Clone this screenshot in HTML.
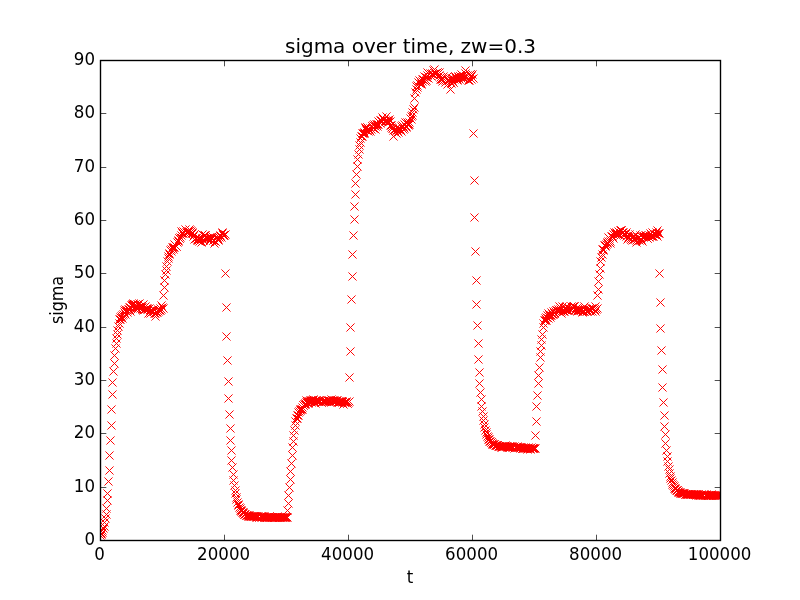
<!DOCTYPE html>
<html><head><meta charset="utf-8"><title>sigma over time</title>
<style>html,body{margin:0;padding:0;background:#fff;overflow:hidden}svg{display:block}</style></head>
<body>
<svg width="800" height="600" viewBox="0 0 800 600">
<rect x="0" y="0" width="800" height="600" fill="#ffffff"/>
<clipPath id="ax"><rect x="100" y="60" width="620" height="480"/></clipPath>
<path clip-path="url(#ax)" d="M96.45 531.45l8.1 8.1m-8.1 0l8.1 -8.1M97.45 530.45l8.1 8.1m-8.1 0l8.1 -8.1M97.45 529.45l8.1 8.1m-8.1 0l8.1 -8.1M98.45 528.45l8.1 8.1m-8.1 0l8.1 -8.1M98.45 526.45l8.1 8.1m-8.1 0l8.1 -8.1M99.45 524.45l8.1 8.1m-8.1 0l8.1 -8.1M100.45 522.45l8.1 8.1m-8.1 0l8.1 -8.1M100.45 518.45l8.1 8.1m-8.1 0l8.1 -8.1M101.45 514.45l8.1 8.1m-8.1 0l8.1 -8.1M102.45 510.45l8.1 8.1m-8.1 0l8.1 -8.1M102.45 504.45l8.1 8.1m-8.1 0l8.1 -8.1M103.45 496.45l8.1 8.1m-8.1 0l8.1 -8.1M103.45 489.45l8.1 8.1m-8.1 0l8.1 -8.1M104.45 477.45l8.1 8.1m-8.1 0l8.1 -8.1M105.45 466.45l8.1 8.1m-8.1 0l8.1 -8.1M105.45 451.45l8.1 8.1m-8.1 0l8.1 -8.1M106.45 436.45l8.1 8.1m-8.1 0l8.1 -8.1M107.45 421.45l8.1 8.1m-8.1 0l8.1 -8.1M107.45 405.45l8.1 8.1m-8.1 0l8.1 -8.1M108.45 390.45l8.1 8.1m-8.1 0l8.1 -8.1M108.45 378.45l8.1 8.1m-8.1 0l8.1 -8.1M109.45 367.45l8.1 8.1m-8.1 0l8.1 -8.1M110.45 359.45l8.1 8.1m-8.1 0l8.1 -8.1M110.45 351.45l8.1 8.1m-8.1 0l8.1 -8.1M111.45 344.45l8.1 8.1m-8.1 0l8.1 -8.1M112.45 339.45l8.1 8.1m-8.1 0l8.1 -8.1M112.45 334.45l8.1 8.1m-8.1 0l8.1 -8.1M113.45 330.45l8.1 8.1m-8.1 0l8.1 -8.1M113.45 326.45l8.1 8.1m-8.1 0l8.1 -8.1M114.45 322.45l8.1 8.1m-8.1 0l8.1 -8.1M115.45 319.45l8.1 8.1m-8.1 0l8.1 -8.1M115.45 315.45l8.1 8.1m-8.1 0l8.1 -8.1M116.45 315.45l8.1 8.1m-8.1 0l8.1 -8.1M116.45 313.45l8.1 8.1m-8.1 0l8.1 -8.1M117.45 312.45l8.1 8.1m-8.1 0l8.1 -8.1M118.45 314.45l8.1 8.1m-8.1 0l8.1 -8.1M118.45 311.45l8.1 8.1m-8.1 0l8.1 -8.1M119.45 310.45l8.1 8.1m-8.1 0l8.1 -8.1M120.45 306.45l8.1 8.1m-8.1 0l8.1 -8.1M120.45 308.45l8.1 8.1m-8.1 0l8.1 -8.1M121.45 310.45l8.1 8.1m-8.1 0l8.1 -8.1M121.45 305.45l8.1 8.1m-8.1 0l8.1 -8.1M122.45 307.45l8.1 8.1m-8.1 0l8.1 -8.1M123.45 308.45l8.1 8.1m-8.1 0l8.1 -8.1M123.45 306.45l8.1 8.1m-8.1 0l8.1 -8.1M124.45 305.45l8.1 8.1m-8.1 0l8.1 -8.1M125.45 305.45l8.1 8.1m-8.1 0l8.1 -8.1M125.45 303.45l8.1 8.1m-8.1 0l8.1 -8.1M126.45 307.45l8.1 8.1m-8.1 0l8.1 -8.1M126.45 303.45l8.1 8.1m-8.1 0l8.1 -8.1M127.45 301.45l8.1 8.1m-8.1 0l8.1 -8.1M128.45 301.45l8.1 8.1m-8.1 0l8.1 -8.1M128.45 300.45l8.1 8.1m-8.1 0l8.1 -8.1M129.45 300.45l8.1 8.1m-8.1 0l8.1 -8.1M129.45 299.45l8.1 8.1m-8.1 0l8.1 -8.1M130.45 304.45l8.1 8.1m-8.1 0l8.1 -8.1M131.45 300.45l8.1 8.1m-8.1 0l8.1 -8.1M131.45 305.45l8.1 8.1m-8.1 0l8.1 -8.1M132.45 303.45l8.1 8.1m-8.1 0l8.1 -8.1M133.45 305.45l8.1 8.1m-8.1 0l8.1 -8.1M133.45 300.45l8.1 8.1m-8.1 0l8.1 -8.1M134.45 300.45l8.1 8.1m-8.1 0l8.1 -8.1M134.45 303.45l8.1 8.1m-8.1 0l8.1 -8.1M135.45 299.45l8.1 8.1m-8.1 0l8.1 -8.1M136.45 304.45l8.1 8.1m-8.1 0l8.1 -8.1M136.45 302.45l8.1 8.1m-8.1 0l8.1 -8.1M137.45 303.45l8.1 8.1m-8.1 0l8.1 -8.1M138.45 305.45l8.1 8.1m-8.1 0l8.1 -8.1M138.45 303.45l8.1 8.1m-8.1 0l8.1 -8.1M139.45 300.45l8.1 8.1m-8.1 0l8.1 -8.1M139.45 306.45l8.1 8.1m-8.1 0l8.1 -8.1M140.45 303.45l8.1 8.1m-8.1 0l8.1 -8.1M141.45 305.45l8.1 8.1m-8.1 0l8.1 -8.1M141.45 302.45l8.1 8.1m-8.1 0l8.1 -8.1M142.45 304.45l8.1 8.1m-8.1 0l8.1 -8.1M143.45 304.45l8.1 8.1m-8.1 0l8.1 -8.1M143.45 305.45l8.1 8.1m-8.1 0l8.1 -8.1M144.45 305.45l8.1 8.1m-8.1 0l8.1 -8.1M144.45 309.45l8.1 8.1m-8.1 0l8.1 -8.1M145.45 304.45l8.1 8.1m-8.1 0l8.1 -8.1M146.45 309.45l8.1 8.1m-8.1 0l8.1 -8.1M146.45 306.45l8.1 8.1m-8.1 0l8.1 -8.1M147.45 306.45l8.1 8.1m-8.1 0l8.1 -8.1M147.45 308.45l8.1 8.1m-8.1 0l8.1 -8.1M148.45 307.45l8.1 8.1m-8.1 0l8.1 -8.1M149.45 305.45l8.1 8.1m-8.1 0l8.1 -8.1M149.45 307.45l8.1 8.1m-8.1 0l8.1 -8.1M150.45 309.45l8.1 8.1m-8.1 0l8.1 -8.1M151.45 312.45l8.1 8.1m-8.1 0l8.1 -8.1M151.45 309.45l8.1 8.1m-8.1 0l8.1 -8.1M152.45 308.45l8.1 8.1m-8.1 0l8.1 -8.1M152.45 307.45l8.1 8.1m-8.1 0l8.1 -8.1M153.45 308.45l8.1 8.1m-8.1 0l8.1 -8.1M154.45 305.45l8.1 8.1m-8.1 0l8.1 -8.1M154.45 307.45l8.1 8.1m-8.1 0l8.1 -8.1M155.45 306.45l8.1 8.1m-8.1 0l8.1 -8.1M156.45 304.45l8.1 8.1m-8.1 0l8.1 -8.1M156.45 306.45l8.1 8.1m-8.1 0l8.1 -8.1M157.45 305.45l8.1 8.1m-8.1 0l8.1 -8.1M157.45 301.45l8.1 8.1m-8.1 0l8.1 -8.1M158.45 303.45l8.1 8.1m-8.1 0l8.1 -8.1M159.45 304.45l8.1 8.1m-8.1 0l8.1 -8.1M159.45 291.45l8.1 8.1m-8.1 0l8.1 -8.1M160.45 283.45l8.1 8.1m-8.1 0l8.1 -8.1M160.45 276.45l8.1 8.1m-8.1 0l8.1 -8.1M161.45 270.45l8.1 8.1m-8.1 0l8.1 -8.1M162.45 266.45l8.1 8.1m-8.1 0l8.1 -8.1M162.45 262.45l8.1 8.1m-8.1 0l8.1 -8.1M163.45 257.45l8.1 8.1m-8.1 0l8.1 -8.1M164.45 254.45l8.1 8.1m-8.1 0l8.1 -8.1M164.45 252.45l8.1 8.1m-8.1 0l8.1 -8.1M165.45 250.45l8.1 8.1m-8.1 0l8.1 -8.1M165.45 249.45l8.1 8.1m-8.1 0l8.1 -8.1M166.45 246.45l8.1 8.1m-8.1 0l8.1 -8.1M167.45 247.45l8.1 8.1m-8.1 0l8.1 -8.1M167.45 245.45l8.1 8.1m-8.1 0l8.1 -8.1M168.45 243.45l8.1 8.1m-8.1 0l8.1 -8.1M169.45 243.45l8.1 8.1m-8.1 0l8.1 -8.1M169.45 245.45l8.1 8.1m-8.1 0l8.1 -8.1M170.45 240.45l8.1 8.1m-8.1 0l8.1 -8.1M170.45 243.45l8.1 8.1m-8.1 0l8.1 -8.1M171.45 241.45l8.1 8.1m-8.1 0l8.1 -8.1M172.45 242.45l8.1 8.1m-8.1 0l8.1 -8.1M172.45 242.45l8.1 8.1m-8.1 0l8.1 -8.1M173.45 238.45l8.1 8.1m-8.1 0l8.1 -8.1M174.45 237.45l8.1 8.1m-8.1 0l8.1 -8.1M174.45 236.45l8.1 8.1m-8.1 0l8.1 -8.1M175.45 234.45l8.1 8.1m-8.1 0l8.1 -8.1M175.45 234.45l8.1 8.1m-8.1 0l8.1 -8.1M176.45 233.45l8.1 8.1m-8.1 0l8.1 -8.1M177.45 231.45l8.1 8.1m-8.1 0l8.1 -8.1M177.45 227.45l8.1 8.1m-8.1 0l8.1 -8.1M178.45 228.45l8.1 8.1m-8.1 0l8.1 -8.1M178.45 229.45l8.1 8.1m-8.1 0l8.1 -8.1M179.45 227.45l8.1 8.1m-8.1 0l8.1 -8.1M180.45 228.45l8.1 8.1m-8.1 0l8.1 -8.1M180.45 228.45l8.1 8.1m-8.1 0l8.1 -8.1M181.45 225.45l8.1 8.1m-8.1 0l8.1 -8.1M182.45 228.45l8.1 8.1m-8.1 0l8.1 -8.1M182.45 230.45l8.1 8.1m-8.1 0l8.1 -8.1M183.45 228.45l8.1 8.1m-8.1 0l8.1 -8.1M183.45 227.45l8.1 8.1m-8.1 0l8.1 -8.1M184.45 227.45l8.1 8.1m-8.1 0l8.1 -8.1M185.45 225.45l8.1 8.1m-8.1 0l8.1 -8.1M185.45 229.45l8.1 8.1m-8.1 0l8.1 -8.1M186.45 226.45l8.1 8.1m-8.1 0l8.1 -8.1M187.45 227.45l8.1 8.1m-8.1 0l8.1 -8.1M187.45 229.45l8.1 8.1m-8.1 0l8.1 -8.1M188.45 228.45l8.1 8.1m-8.1 0l8.1 -8.1M188.45 229.45l8.1 8.1m-8.1 0l8.1 -8.1M189.45 232.45l8.1 8.1m-8.1 0l8.1 -8.1M190.45 230.45l8.1 8.1m-8.1 0l8.1 -8.1M190.45 235.45l8.1 8.1m-8.1 0l8.1 -8.1M191.45 234.45l8.1 8.1m-8.1 0l8.1 -8.1M191.45 234.45l8.1 8.1m-8.1 0l8.1 -8.1M192.45 234.45l8.1 8.1m-8.1 0l8.1 -8.1M193.45 236.45l8.1 8.1m-8.1 0l8.1 -8.1M193.45 235.45l8.1 8.1m-8.1 0l8.1 -8.1M194.45 236.45l8.1 8.1m-8.1 0l8.1 -8.1M195.45 234.45l8.1 8.1m-8.1 0l8.1 -8.1M195.45 237.45l8.1 8.1m-8.1 0l8.1 -8.1M196.45 236.45l8.1 8.1m-8.1 0l8.1 -8.1M196.45 236.45l8.1 8.1m-8.1 0l8.1 -8.1M197.45 238.45l8.1 8.1m-8.1 0l8.1 -8.1M198.45 230.45l8.1 8.1m-8.1 0l8.1 -8.1M198.45 234.45l8.1 8.1m-8.1 0l8.1 -8.1M199.45 236.45l8.1 8.1m-8.1 0l8.1 -8.1M200.45 231.45l8.1 8.1m-8.1 0l8.1 -8.1M200.45 234.45l8.1 8.1m-8.1 0l8.1 -8.1M201.45 231.45l8.1 8.1m-8.1 0l8.1 -8.1M201.45 231.45l8.1 8.1m-8.1 0l8.1 -8.1M202.45 234.45l8.1 8.1m-8.1 0l8.1 -8.1M203.45 234.45l8.1 8.1m-8.1 0l8.1 -8.1M203.45 234.45l8.1 8.1m-8.1 0l8.1 -8.1M204.45 234.45l8.1 8.1m-8.1 0l8.1 -8.1M205.45 237.45l8.1 8.1m-8.1 0l8.1 -8.1M205.45 237.45l8.1 8.1m-8.1 0l8.1 -8.1M206.45 235.45l8.1 8.1m-8.1 0l8.1 -8.1M206.45 233.45l8.1 8.1m-8.1 0l8.1 -8.1M207.45 234.45l8.1 8.1m-8.1 0l8.1 -8.1M208.45 232.45l8.1 8.1m-8.1 0l8.1 -8.1M208.45 234.45l8.1 8.1m-8.1 0l8.1 -8.1M209.45 236.45l8.1 8.1m-8.1 0l8.1 -8.1M209.45 236.45l8.1 8.1m-8.1 0l8.1 -8.1M210.45 239.45l8.1 8.1m-8.1 0l8.1 -8.1M211.45 237.45l8.1 8.1m-8.1 0l8.1 -8.1M211.45 237.45l8.1 8.1m-8.1 0l8.1 -8.1M212.45 234.45l8.1 8.1m-8.1 0l8.1 -8.1M213.45 233.45l8.1 8.1m-8.1 0l8.1 -8.1M213.45 235.45l8.1 8.1m-8.1 0l8.1 -8.1M214.45 235.45l8.1 8.1m-8.1 0l8.1 -8.1M214.45 236.45l8.1 8.1m-8.1 0l8.1 -8.1M215.45 233.45l8.1 8.1m-8.1 0l8.1 -8.1M216.45 232.45l8.1 8.1m-8.1 0l8.1 -8.1M216.45 231.45l8.1 8.1m-8.1 0l8.1 -8.1M217.45 233.45l8.1 8.1m-8.1 0l8.1 -8.1M218.45 228.45l8.1 8.1m-8.1 0l8.1 -8.1M218.45 229.45l8.1 8.1m-8.1 0l8.1 -8.1M219.45 231.45l8.1 8.1m-8.1 0l8.1 -8.1M219.45 231.45l8.1 8.1m-8.1 0l8.1 -8.1M220.45 231.45l8.1 8.1m-8.1 0l8.1 -8.1M221.45 230.45l8.1 8.1m-8.1 0l8.1 -8.1M221.45 269.45l8.1 8.1m-8.1 0l8.1 -8.1M222.45 303.45l8.1 8.1m-8.1 0l8.1 -8.1M222.45 332.45l8.1 8.1m-8.1 0l8.1 -8.1M223.45 356.45l8.1 8.1m-8.1 0l8.1 -8.1M224.45 377.45l8.1 8.1m-8.1 0l8.1 -8.1M224.45 394.45l8.1 8.1m-8.1 0l8.1 -8.1M225.45 410.45l8.1 8.1m-8.1 0l8.1 -8.1M226.45 424.45l8.1 8.1m-8.1 0l8.1 -8.1M226.45 436.45l8.1 8.1m-8.1 0l8.1 -8.1M227.45 446.45l8.1 8.1m-8.1 0l8.1 -8.1M227.45 456.45l8.1 8.1m-8.1 0l8.1 -8.1M228.45 463.45l8.1 8.1m-8.1 0l8.1 -8.1M229.45 470.45l8.1 8.1m-8.1 0l8.1 -8.1M229.45 476.45l8.1 8.1m-8.1 0l8.1 -8.1M230.45 481.45l8.1 8.1m-8.1 0l8.1 -8.1M231.45 486.45l8.1 8.1m-8.1 0l8.1 -8.1M231.45 489.45l8.1 8.1m-8.1 0l8.1 -8.1M232.45 493.45l8.1 8.1m-8.1 0l8.1 -8.1M232.45 495.45l8.1 8.1m-8.1 0l8.1 -8.1M233.45 498.45l8.1 8.1m-8.1 0l8.1 -8.1M234.45 500.45l8.1 8.1m-8.1 0l8.1 -8.1M234.45 501.45l8.1 8.1m-8.1 0l8.1 -8.1M235.45 503.45l8.1 8.1m-8.1 0l8.1 -8.1M236.45 504.45l8.1 8.1m-8.1 0l8.1 -8.1M236.45 506.45l8.1 8.1m-8.1 0l8.1 -8.1M237.45 506.45l8.1 8.1m-8.1 0l8.1 -8.1M237.45 507.45l8.1 8.1m-8.1 0l8.1 -8.1M238.45 508.45l8.1 8.1m-8.1 0l8.1 -8.1M239.45 508.45l8.1 8.1m-8.1 0l8.1 -8.1M239.45 509.45l8.1 8.1m-8.1 0l8.1 -8.1M240.45 510.45l8.1 8.1m-8.1 0l8.1 -8.1M240.45 510.45l8.1 8.1m-8.1 0l8.1 -8.1M241.45 510.45l8.1 8.1m-8.1 0l8.1 -8.1M242.45 511.45l8.1 8.1m-8.1 0l8.1 -8.1M242.45 511.45l8.1 8.1m-8.1 0l8.1 -8.1M243.45 511.45l8.1 8.1m-8.1 0l8.1 -8.1M244.45 511.45l8.1 8.1m-8.1 0l8.1 -8.1M244.45 512.45l8.1 8.1m-8.1 0l8.1 -8.1M245.45 512.45l8.1 8.1m-8.1 0l8.1 -8.1M245.45 511.45l8.1 8.1m-8.1 0l8.1 -8.1M246.45 512.45l8.1 8.1m-8.1 0l8.1 -8.1M247.45 512.45l8.1 8.1m-8.1 0l8.1 -8.1M247.45 512.45l8.1 8.1m-8.1 0l8.1 -8.1M248.45 512.45l8.1 8.1m-8.1 0l8.1 -8.1M249.45 512.45l8.1 8.1m-8.1 0l8.1 -8.1M249.45 512.45l8.1 8.1m-8.1 0l8.1 -8.1M250.45 512.45l8.1 8.1m-8.1 0l8.1 -8.1M250.45 512.45l8.1 8.1m-8.1 0l8.1 -8.1M251.45 512.45l8.1 8.1m-8.1 0l8.1 -8.1M252.45 513.45l8.1 8.1m-8.1 0l8.1 -8.1M252.45 512.45l8.1 8.1m-8.1 0l8.1 -8.1M253.45 512.45l8.1 8.1m-8.1 0l8.1 -8.1M253.45 513.45l8.1 8.1m-8.1 0l8.1 -8.1M254.45 512.45l8.1 8.1m-8.1 0l8.1 -8.1M255.45 513.45l8.1 8.1m-8.1 0l8.1 -8.1M255.45 513.45l8.1 8.1m-8.1 0l8.1 -8.1M256.45 512.45l8.1 8.1m-8.1 0l8.1 -8.1M257.45 512.45l8.1 8.1m-8.1 0l8.1 -8.1M257.45 513.45l8.1 8.1m-8.1 0l8.1 -8.1M258.45 512.45l8.1 8.1m-8.1 0l8.1 -8.1M258.45 513.45l8.1 8.1m-8.1 0l8.1 -8.1M259.45 512.45l8.1 8.1m-8.1 0l8.1 -8.1M260.45 513.45l8.1 8.1m-8.1 0l8.1 -8.1M260.45 512.45l8.1 8.1m-8.1 0l8.1 -8.1M261.45 513.45l8.1 8.1m-8.1 0l8.1 -8.1M262.45 513.45l8.1 8.1m-8.1 0l8.1 -8.1M262.45 513.45l8.1 8.1m-8.1 0l8.1 -8.1M263.45 513.45l8.1 8.1m-8.1 0l8.1 -8.1M263.45 513.45l8.1 8.1m-8.1 0l8.1 -8.1M264.45 513.45l8.1 8.1m-8.1 0l8.1 -8.1M265.45 512.45l8.1 8.1m-8.1 0l8.1 -8.1M265.45 513.45l8.1 8.1m-8.1 0l8.1 -8.1M266.45 513.45l8.1 8.1m-8.1 0l8.1 -8.1M267.45 513.45l8.1 8.1m-8.1 0l8.1 -8.1M267.45 513.45l8.1 8.1m-8.1 0l8.1 -8.1M268.45 513.45l8.1 8.1m-8.1 0l8.1 -8.1M268.45 513.45l8.1 8.1m-8.1 0l8.1 -8.1M269.45 513.45l8.1 8.1m-8.1 0l8.1 -8.1M270.45 513.45l8.1 8.1m-8.1 0l8.1 -8.1M270.45 513.45l8.1 8.1m-8.1 0l8.1 -8.1M271.45 513.45l8.1 8.1m-8.1 0l8.1 -8.1M271.45 513.45l8.1 8.1m-8.1 0l8.1 -8.1M272.45 513.45l8.1 8.1m-8.1 0l8.1 -8.1M273.45 512.45l8.1 8.1m-8.1 0l8.1 -8.1M273.45 513.45l8.1 8.1m-8.1 0l8.1 -8.1M274.45 513.45l8.1 8.1m-8.1 0l8.1 -8.1M275.45 513.45l8.1 8.1m-8.1 0l8.1 -8.1M275.45 513.45l8.1 8.1m-8.1 0l8.1 -8.1M276.45 513.45l8.1 8.1m-8.1 0l8.1 -8.1M276.45 513.45l8.1 8.1m-8.1 0l8.1 -8.1M277.45 513.45l8.1 8.1m-8.1 0l8.1 -8.1M278.45 513.45l8.1 8.1m-8.1 0l8.1 -8.1M278.45 513.45l8.1 8.1m-8.1 0l8.1 -8.1M279.45 513.45l8.1 8.1m-8.1 0l8.1 -8.1M280.45 513.45l8.1 8.1m-8.1 0l8.1 -8.1M280.45 513.45l8.1 8.1m-8.1 0l8.1 -8.1M281.45 513.45l8.1 8.1m-8.1 0l8.1 -8.1M281.45 513.45l8.1 8.1m-8.1 0l8.1 -8.1M282.45 513.45l8.1 8.1m-8.1 0l8.1 -8.1M283.45 513.45l8.1 8.1m-8.1 0l8.1 -8.1M283.45 506.45l8.1 8.1m-8.1 0l8.1 -8.1M284.45 499.45l8.1 8.1m-8.1 0l8.1 -8.1M284.45 491.45l8.1 8.1m-8.1 0l8.1 -8.1M285.45 483.45l8.1 8.1m-8.1 0l8.1 -8.1M286.45 475.45l8.1 8.1m-8.1 0l8.1 -8.1M286.45 467.45l8.1 8.1m-8.1 0l8.1 -8.1M287.45 459.45l8.1 8.1m-8.1 0l8.1 -8.1M288.45 451.45l8.1 8.1m-8.1 0l8.1 -8.1M288.45 443.45l8.1 8.1m-8.1 0l8.1 -8.1M289.45 437.45l8.1 8.1m-8.1 0l8.1 -8.1M289.45 431.45l8.1 8.1m-8.1 0l8.1 -8.1M290.45 426.45l8.1 8.1m-8.1 0l8.1 -8.1M291.45 421.45l8.1 8.1m-8.1 0l8.1 -8.1M291.45 417.45l8.1 8.1m-8.1 0l8.1 -8.1M292.45 414.45l8.1 8.1m-8.1 0l8.1 -8.1M293.45 414.45l8.1 8.1m-8.1 0l8.1 -8.1M293.45 411.45l8.1 8.1m-8.1 0l8.1 -8.1M294.45 411.45l8.1 8.1m-8.1 0l8.1 -8.1M294.45 408.45l8.1 8.1m-8.1 0l8.1 -8.1M295.45 407.45l8.1 8.1m-8.1 0l8.1 -8.1M296.45 406.45l8.1 8.1m-8.1 0l8.1 -8.1M296.45 405.45l8.1 8.1m-8.1 0l8.1 -8.1M297.45 405.45l8.1 8.1m-8.1 0l8.1 -8.1M298.45 405.45l8.1 8.1m-8.1 0l8.1 -8.1M298.45 403.45l8.1 8.1m-8.1 0l8.1 -8.1M299.45 401.45l8.1 8.1m-8.1 0l8.1 -8.1M299.45 401.45l8.1 8.1m-8.1 0l8.1 -8.1M300.45 400.45l8.1 8.1m-8.1 0l8.1 -8.1M301.45 399.45l8.1 8.1m-8.1 0l8.1 -8.1M301.45 400.45l8.1 8.1m-8.1 0l8.1 -8.1M302.45 398.45l8.1 8.1m-8.1 0l8.1 -8.1M302.45 396.45l8.1 8.1m-8.1 0l8.1 -8.1M303.45 398.45l8.1 8.1m-8.1 0l8.1 -8.1M304.45 399.45l8.1 8.1m-8.1 0l8.1 -8.1M304.45 397.45l8.1 8.1m-8.1 0l8.1 -8.1M305.45 397.45l8.1 8.1m-8.1 0l8.1 -8.1M306.45 396.45l8.1 8.1m-8.1 0l8.1 -8.1M306.45 397.45l8.1 8.1m-8.1 0l8.1 -8.1M307.45 396.45l8.1 8.1m-8.1 0l8.1 -8.1M307.45 398.45l8.1 8.1m-8.1 0l8.1 -8.1M308.45 396.45l8.1 8.1m-8.1 0l8.1 -8.1M309.45 395.45l8.1 8.1m-8.1 0l8.1 -8.1M309.45 396.45l8.1 8.1m-8.1 0l8.1 -8.1M310.45 398.45l8.1 8.1m-8.1 0l8.1 -8.1M311.45 396.45l8.1 8.1m-8.1 0l8.1 -8.1M311.45 399.45l8.1 8.1m-8.1 0l8.1 -8.1M312.45 396.45l8.1 8.1m-8.1 0l8.1 -8.1M312.45 397.45l8.1 8.1m-8.1 0l8.1 -8.1M313.45 397.45l8.1 8.1m-8.1 0l8.1 -8.1M314.45 396.45l8.1 8.1m-8.1 0l8.1 -8.1M314.45 397.45l8.1 8.1m-8.1 0l8.1 -8.1M315.45 396.45l8.1 8.1m-8.1 0l8.1 -8.1M315.45 397.45l8.1 8.1m-8.1 0l8.1 -8.1M316.45 397.45l8.1 8.1m-8.1 0l8.1 -8.1M317.45 398.45l8.1 8.1m-8.1 0l8.1 -8.1M317.45 398.45l8.1 8.1m-8.1 0l8.1 -8.1M318.45 397.45l8.1 8.1m-8.1 0l8.1 -8.1M319.45 397.45l8.1 8.1m-8.1 0l8.1 -8.1M319.45 397.45l8.1 8.1m-8.1 0l8.1 -8.1M320.45 396.45l8.1 8.1m-8.1 0l8.1 -8.1M320.45 397.45l8.1 8.1m-8.1 0l8.1 -8.1M321.45 397.45l8.1 8.1m-8.1 0l8.1 -8.1M322.45 397.45l8.1 8.1m-8.1 0l8.1 -8.1M322.45 397.45l8.1 8.1m-8.1 0l8.1 -8.1M323.45 396.45l8.1 8.1m-8.1 0l8.1 -8.1M324.45 397.45l8.1 8.1m-8.1 0l8.1 -8.1M324.45 396.45l8.1 8.1m-8.1 0l8.1 -8.1M325.45 397.45l8.1 8.1m-8.1 0l8.1 -8.1M325.45 396.45l8.1 8.1m-8.1 0l8.1 -8.1M326.45 397.45l8.1 8.1m-8.1 0l8.1 -8.1M327.45 395.45l8.1 8.1m-8.1 0l8.1 -8.1M327.45 398.45l8.1 8.1m-8.1 0l8.1 -8.1M328.45 396.45l8.1 8.1m-8.1 0l8.1 -8.1M329.45 397.45l8.1 8.1m-8.1 0l8.1 -8.1M329.45 396.45l8.1 8.1m-8.1 0l8.1 -8.1M330.45 396.45l8.1 8.1m-8.1 0l8.1 -8.1M330.45 397.45l8.1 8.1m-8.1 0l8.1 -8.1M331.45 397.45l8.1 8.1m-8.1 0l8.1 -8.1M332.45 397.45l8.1 8.1m-8.1 0l8.1 -8.1M332.45 396.45l8.1 8.1m-8.1 0l8.1 -8.1M333.45 398.45l8.1 8.1m-8.1 0l8.1 -8.1M333.45 396.45l8.1 8.1m-8.1 0l8.1 -8.1M334.45 398.45l8.1 8.1m-8.1 0l8.1 -8.1M335.45 398.45l8.1 8.1m-8.1 0l8.1 -8.1M335.45 397.45l8.1 8.1m-8.1 0l8.1 -8.1M336.45 397.45l8.1 8.1m-8.1 0l8.1 -8.1M337.45 397.45l8.1 8.1m-8.1 0l8.1 -8.1M337.45 397.45l8.1 8.1m-8.1 0l8.1 -8.1M338.45 397.45l8.1 8.1m-8.1 0l8.1 -8.1M338.45 398.45l8.1 8.1m-8.1 0l8.1 -8.1M339.45 400.45l8.1 8.1m-8.1 0l8.1 -8.1M340.45 398.45l8.1 8.1m-8.1 0l8.1 -8.1M340.45 398.45l8.1 8.1m-8.1 0l8.1 -8.1M341.45 398.45l8.1 8.1m-8.1 0l8.1 -8.1M342.45 397.45l8.1 8.1m-8.1 0l8.1 -8.1M342.45 398.45l8.1 8.1m-8.1 0l8.1 -8.1M343.45 399.45l8.1 8.1m-8.1 0l8.1 -8.1M343.45 399.45l8.1 8.1m-8.1 0l8.1 -8.1M344.45 398.45l8.1 8.1m-8.1 0l8.1 -8.1M345.45 397.45l8.1 8.1m-8.1 0l8.1 -8.1M345.45 373.45l8.1 8.1m-8.1 0l8.1 -8.1M346.45 347.45l8.1 8.1m-8.1 0l8.1 -8.1M346.45 323.45l8.1 8.1m-8.1 0l8.1 -8.1M347.45 295.45l8.1 8.1m-8.1 0l8.1 -8.1M348.45 272.45l8.1 8.1m-8.1 0l8.1 -8.1M348.45 250.45l8.1 8.1m-8.1 0l8.1 -8.1M349.45 231.45l8.1 8.1m-8.1 0l8.1 -8.1M350.45 215.45l8.1 8.1m-8.1 0l8.1 -8.1M350.45 202.45l8.1 8.1m-8.1 0l8.1 -8.1M351.45 190.45l8.1 8.1m-8.1 0l8.1 -8.1M351.45 179.45l8.1 8.1m-8.1 0l8.1 -8.1M352.45 170.45l8.1 8.1m-8.1 0l8.1 -8.1M353.45 162.45l8.1 8.1m-8.1 0l8.1 -8.1M353.45 155.45l8.1 8.1m-8.1 0l8.1 -8.1M354.45 150.45l8.1 8.1m-8.1 0l8.1 -8.1M355.45 145.45l8.1 8.1m-8.1 0l8.1 -8.1M355.45 141.45l8.1 8.1m-8.1 0l8.1 -8.1M356.45 138.45l8.1 8.1m-8.1 0l8.1 -8.1M356.45 134.45l8.1 8.1m-8.1 0l8.1 -8.1M357.45 132.45l8.1 8.1m-8.1 0l8.1 -8.1M358.45 132.45l8.1 8.1m-8.1 0l8.1 -8.1M358.45 129.45l8.1 8.1m-8.1 0l8.1 -8.1M359.45 129.45l8.1 8.1m-8.1 0l8.1 -8.1M360.45 129.45l8.1 8.1m-8.1 0l8.1 -8.1M360.45 128.45l8.1 8.1m-8.1 0l8.1 -8.1M361.45 124.45l8.1 8.1m-8.1 0l8.1 -8.1M361.45 123.45l8.1 8.1m-8.1 0l8.1 -8.1M362.45 126.45l8.1 8.1m-8.1 0l8.1 -8.1M363.45 123.45l8.1 8.1m-8.1 0l8.1 -8.1M363.45 123.45l8.1 8.1m-8.1 0l8.1 -8.1M364.45 127.45l8.1 8.1m-8.1 0l8.1 -8.1M364.45 125.45l8.1 8.1m-8.1 0l8.1 -8.1M365.45 125.45l8.1 8.1m-8.1 0l8.1 -8.1M366.45 124.45l8.1 8.1m-8.1 0l8.1 -8.1M366.45 127.45l8.1 8.1m-8.1 0l8.1 -8.1M367.45 125.45l8.1 8.1m-8.1 0l8.1 -8.1M368.45 122.45l8.1 8.1m-8.1 0l8.1 -8.1M368.45 122.45l8.1 8.1m-8.1 0l8.1 -8.1M369.45 121.45l8.1 8.1m-8.1 0l8.1 -8.1M369.45 124.45l8.1 8.1m-8.1 0l8.1 -8.1M370.45 120.45l8.1 8.1m-8.1 0l8.1 -8.1M371.45 122.45l8.1 8.1m-8.1 0l8.1 -8.1M371.45 125.45l8.1 8.1m-8.1 0l8.1 -8.1M372.45 120.45l8.1 8.1m-8.1 0l8.1 -8.1M373.45 122.45l8.1 8.1m-8.1 0l8.1 -8.1M373.45 120.45l8.1 8.1m-8.1 0l8.1 -8.1M374.45 120.45l8.1 8.1m-8.1 0l8.1 -8.1M374.45 117.45l8.1 8.1m-8.1 0l8.1 -8.1M375.45 118.45l8.1 8.1m-8.1 0l8.1 -8.1M376.45 119.45l8.1 8.1m-8.1 0l8.1 -8.1M376.45 116.45l8.1 8.1m-8.1 0l8.1 -8.1M377.45 116.45l8.1 8.1m-8.1 0l8.1 -8.1M377.45 117.45l8.1 8.1m-8.1 0l8.1 -8.1M378.45 113.45l8.1 8.1m-8.1 0l8.1 -8.1M379.45 115.45l8.1 8.1m-8.1 0l8.1 -8.1M379.45 115.45l8.1 8.1m-8.1 0l8.1 -8.1M380.45 115.45l8.1 8.1m-8.1 0l8.1 -8.1M381.45 117.45l8.1 8.1m-8.1 0l8.1 -8.1M381.45 116.45l8.1 8.1m-8.1 0l8.1 -8.1M382.45 112.45l8.1 8.1m-8.1 0l8.1 -8.1M382.45 117.45l8.1 8.1m-8.1 0l8.1 -8.1M383.45 116.45l8.1 8.1m-8.1 0l8.1 -8.1M384.45 118.45l8.1 8.1m-8.1 0l8.1 -8.1M384.45 117.45l8.1 8.1m-8.1 0l8.1 -8.1M385.45 115.45l8.1 8.1m-8.1 0l8.1 -8.1M386.45 117.45l8.1 8.1m-8.1 0l8.1 -8.1M386.45 121.45l8.1 8.1m-8.1 0l8.1 -8.1M387.45 121.45l8.1 8.1m-8.1 0l8.1 -8.1M387.45 123.45l8.1 8.1m-8.1 0l8.1 -8.1M388.45 124.45l8.1 8.1m-8.1 0l8.1 -8.1M389.45 126.45l8.1 8.1m-8.1 0l8.1 -8.1M389.45 132.45l8.1 8.1m-8.1 0l8.1 -8.1M390.45 125.45l8.1 8.1m-8.1 0l8.1 -8.1M391.45 125.45l8.1 8.1m-8.1 0l8.1 -8.1M391.45 125.45l8.1 8.1m-8.1 0l8.1 -8.1M392.45 126.45l8.1 8.1m-8.1 0l8.1 -8.1M392.45 129.45l8.1 8.1m-8.1 0l8.1 -8.1M393.45 126.45l8.1 8.1m-8.1 0l8.1 -8.1M394.45 128.45l8.1 8.1m-8.1 0l8.1 -8.1M394.45 125.45l8.1 8.1m-8.1 0l8.1 -8.1M395.45 125.45l8.1 8.1m-8.1 0l8.1 -8.1M395.45 124.45l8.1 8.1m-8.1 0l8.1 -8.1M396.45 125.45l8.1 8.1m-8.1 0l8.1 -8.1M397.45 127.45l8.1 8.1m-8.1 0l8.1 -8.1M397.45 122.45l8.1 8.1m-8.1 0l8.1 -8.1M398.45 121.45l8.1 8.1m-8.1 0l8.1 -8.1M399.45 125.45l8.1 8.1m-8.1 0l8.1 -8.1M399.45 122.45l8.1 8.1m-8.1 0l8.1 -8.1M400.45 120.45l8.1 8.1m-8.1 0l8.1 -8.1M400.45 124.45l8.1 8.1m-8.1 0l8.1 -8.1M401.45 118.45l8.1 8.1m-8.1 0l8.1 -8.1M402.45 122.45l8.1 8.1m-8.1 0l8.1 -8.1M402.45 123.45l8.1 8.1m-8.1 0l8.1 -8.1M403.45 118.45l8.1 8.1m-8.1 0l8.1 -8.1M404.45 120.45l8.1 8.1m-8.1 0l8.1 -8.1M404.45 121.45l8.1 8.1m-8.1 0l8.1 -8.1M405.45 118.45l8.1 8.1m-8.1 0l8.1 -8.1M405.45 120.45l8.1 8.1m-8.1 0l8.1 -8.1M406.45 114.45l8.1 8.1m-8.1 0l8.1 -8.1M407.45 115.45l8.1 8.1m-8.1 0l8.1 -8.1M407.45 112.45l8.1 8.1m-8.1 0l8.1 -8.1M408.45 111.45l8.1 8.1m-8.1 0l8.1 -8.1M408.45 108.45l8.1 8.1m-8.1 0l8.1 -8.1M409.45 105.45l8.1 8.1m-8.1 0l8.1 -8.1M410.45 103.45l8.1 8.1m-8.1 0l8.1 -8.1M410.45 94.45l8.1 8.1m-8.1 0l8.1 -8.1M411.45 88.45l8.1 8.1m-8.1 0l8.1 -8.1M412.45 85.45l8.1 8.1m-8.1 0l8.1 -8.1M412.45 82.45l8.1 8.1m-8.1 0l8.1 -8.1M413.45 83.45l8.1 8.1m-8.1 0l8.1 -8.1M413.45 81.45l8.1 8.1m-8.1 0l8.1 -8.1M414.45 78.45l8.1 8.1m-8.1 0l8.1 -8.1M415.45 79.45l8.1 8.1m-8.1 0l8.1 -8.1M415.45 76.45l8.1 8.1m-8.1 0l8.1 -8.1M416.45 77.45l8.1 8.1m-8.1 0l8.1 -8.1M417.45 79.45l8.1 8.1m-8.1 0l8.1 -8.1M417.45 80.45l8.1 8.1m-8.1 0l8.1 -8.1M418.45 77.45l8.1 8.1m-8.1 0l8.1 -8.1M418.45 75.45l8.1 8.1m-8.1 0l8.1 -8.1M419.45 75.45l8.1 8.1m-8.1 0l8.1 -8.1M420.45 76.45l8.1 8.1m-8.1 0l8.1 -8.1M420.45 72.45l8.1 8.1m-8.1 0l8.1 -8.1M421.45 77.45l8.1 8.1m-8.1 0l8.1 -8.1M422.45 76.45l8.1 8.1m-8.1 0l8.1 -8.1M422.45 73.45l8.1 8.1m-8.1 0l8.1 -8.1M423.45 68.45l8.1 8.1m-8.1 0l8.1 -8.1M423.45 71.45l8.1 8.1m-8.1 0l8.1 -8.1M424.45 74.45l8.1 8.1m-8.1 0l8.1 -8.1M425.45 70.45l8.1 8.1m-8.1 0l8.1 -8.1M425.45 70.45l8.1 8.1m-8.1 0l8.1 -8.1M426.45 69.45l8.1 8.1m-8.1 0l8.1 -8.1M426.45 71.45l8.1 8.1m-8.1 0l8.1 -8.1M427.45 72.45l8.1 8.1m-8.1 0l8.1 -8.1M428.45 70.45l8.1 8.1m-8.1 0l8.1 -8.1M428.45 69.45l8.1 8.1m-8.1 0l8.1 -8.1M429.45 66.45l8.1 8.1m-8.1 0l8.1 -8.1M430.45 65.45l8.1 8.1m-8.1 0l8.1 -8.1M430.45 71.45l8.1 8.1m-8.1 0l8.1 -8.1M431.45 70.45l8.1 8.1m-8.1 0l8.1 -8.1M431.45 69.45l8.1 8.1m-8.1 0l8.1 -8.1M432.45 69.45l8.1 8.1m-8.1 0l8.1 -8.1M433.45 68.45l8.1 8.1m-8.1 0l8.1 -8.1M433.45 68.45l8.1 8.1m-8.1 0l8.1 -8.1M434.45 69.45l8.1 8.1m-8.1 0l8.1 -8.1M435.45 68.45l8.1 8.1m-8.1 0l8.1 -8.1M435.45 71.45l8.1 8.1m-8.1 0l8.1 -8.1M436.45 73.45l8.1 8.1m-8.1 0l8.1 -8.1M436.45 75.45l8.1 8.1m-8.1 0l8.1 -8.1M437.45 75.45l8.1 8.1m-8.1 0l8.1 -8.1M438.45 75.45l8.1 8.1m-8.1 0l8.1 -8.1M438.45 77.45l8.1 8.1m-8.1 0l8.1 -8.1M439.45 72.45l8.1 8.1m-8.1 0l8.1 -8.1M439.45 74.45l8.1 8.1m-8.1 0l8.1 -8.1M440.45 75.45l8.1 8.1m-8.1 0l8.1 -8.1M441.45 76.45l8.1 8.1m-8.1 0l8.1 -8.1M441.45 78.45l8.1 8.1m-8.1 0l8.1 -8.1M442.45 77.45l8.1 8.1m-8.1 0l8.1 -8.1M443.45 72.45l8.1 8.1m-8.1 0l8.1 -8.1M443.45 80.45l8.1 8.1m-8.1 0l8.1 -8.1M444.45 76.45l8.1 8.1m-8.1 0l8.1 -8.1M444.45 75.45l8.1 8.1m-8.1 0l8.1 -8.1M445.45 76.45l8.1 8.1m-8.1 0l8.1 -8.1M446.45 85.45l8.1 8.1m-8.1 0l8.1 -8.1M446.45 75.45l8.1 8.1m-8.1 0l8.1 -8.1M447.45 79.45l8.1 8.1m-8.1 0l8.1 -8.1M448.45 76.45l8.1 8.1m-8.1 0l8.1 -8.1M448.45 74.45l8.1 8.1m-8.1 0l8.1 -8.1M449.45 78.45l8.1 8.1m-8.1 0l8.1 -8.1M449.45 78.45l8.1 8.1m-8.1 0l8.1 -8.1M450.45 75.45l8.1 8.1m-8.1 0l8.1 -8.1M451.45 73.45l8.1 8.1m-8.1 0l8.1 -8.1M451.45 72.45l8.1 8.1m-8.1 0l8.1 -8.1M452.45 73.45l8.1 8.1m-8.1 0l8.1 -8.1M453.45 75.45l8.1 8.1m-8.1 0l8.1 -8.1M453.45 76.45l8.1 8.1m-8.1 0l8.1 -8.1M454.45 73.45l8.1 8.1m-8.1 0l8.1 -8.1M454.45 72.45l8.1 8.1m-8.1 0l8.1 -8.1M455.45 75.45l8.1 8.1m-8.1 0l8.1 -8.1M456.45 72.45l8.1 8.1m-8.1 0l8.1 -8.1M456.45 72.45l8.1 8.1m-8.1 0l8.1 -8.1M457.45 70.45l8.1 8.1m-8.1 0l8.1 -8.1M457.45 74.45l8.1 8.1m-8.1 0l8.1 -8.1M458.45 71.45l8.1 8.1m-8.1 0l8.1 -8.1M459.45 74.45l8.1 8.1m-8.1 0l8.1 -8.1M459.45 73.45l8.1 8.1m-8.1 0l8.1 -8.1M460.45 72.45l8.1 8.1m-8.1 0l8.1 -8.1M461.45 69.45l8.1 8.1m-8.1 0l8.1 -8.1M461.45 66.45l8.1 8.1m-8.1 0l8.1 -8.1M462.45 72.45l8.1 8.1m-8.1 0l8.1 -8.1M462.45 72.45l8.1 8.1m-8.1 0l8.1 -8.1M463.45 71.45l8.1 8.1m-8.1 0l8.1 -8.1M464.45 76.45l8.1 8.1m-8.1 0l8.1 -8.1M464.45 72.45l8.1 8.1m-8.1 0l8.1 -8.1M465.45 76.45l8.1 8.1m-8.1 0l8.1 -8.1M466.45 70.45l8.1 8.1m-8.1 0l8.1 -8.1M466.45 70.45l8.1 8.1m-8.1 0l8.1 -8.1M467.45 72.45l8.1 8.1m-8.1 0l8.1 -8.1M467.45 75.45l8.1 8.1m-8.1 0l8.1 -8.1M468.45 70.45l8.1 8.1m-8.1 0l8.1 -8.1M469.45 74.45l8.1 8.1m-8.1 0l8.1 -8.1M469.45 129.45l8.1 8.1m-8.1 0l8.1 -8.1M470.45 176.45l8.1 8.1m-8.1 0l8.1 -8.1M470.45 213.45l8.1 8.1m-8.1 0l8.1 -8.1M471.45 247.45l8.1 8.1m-8.1 0l8.1 -8.1M472.45 276.45l8.1 8.1m-8.1 0l8.1 -8.1M472.45 300.45l8.1 8.1m-8.1 0l8.1 -8.1M473.45 321.45l8.1 8.1m-8.1 0l8.1 -8.1M474.45 339.45l8.1 8.1m-8.1 0l8.1 -8.1M474.45 355.45l8.1 8.1m-8.1 0l8.1 -8.1M475.45 368.45l8.1 8.1m-8.1 0l8.1 -8.1M475.45 379.45l8.1 8.1m-8.1 0l8.1 -8.1M476.45 388.45l8.1 8.1m-8.1 0l8.1 -8.1M477.45 395.45l8.1 8.1m-8.1 0l8.1 -8.1M477.45 402.45l8.1 8.1m-8.1 0l8.1 -8.1M478.45 407.45l8.1 8.1m-8.1 0l8.1 -8.1M479.45 412.45l8.1 8.1m-8.1 0l8.1 -8.1M479.45 416.45l8.1 8.1m-8.1 0l8.1 -8.1M480.45 420.45l8.1 8.1m-8.1 0l8.1 -8.1M480.45 423.45l8.1 8.1m-8.1 0l8.1 -8.1M481.45 426.45l8.1 8.1m-8.1 0l8.1 -8.1M482.45 428.45l8.1 8.1m-8.1 0l8.1 -8.1M482.45 430.45l8.1 8.1m-8.1 0l8.1 -8.1M483.45 432.45l8.1 8.1m-8.1 0l8.1 -8.1M484.45 433.45l8.1 8.1m-8.1 0l8.1 -8.1M484.45 435.45l8.1 8.1m-8.1 0l8.1 -8.1M485.45 435.45l8.1 8.1m-8.1 0l8.1 -8.1M485.45 437.45l8.1 8.1m-8.1 0l8.1 -8.1M486.45 437.45l8.1 8.1m-8.1 0l8.1 -8.1M487.45 438.45l8.1 8.1m-8.1 0l8.1 -8.1M487.45 438.45l8.1 8.1m-8.1 0l8.1 -8.1M488.45 439.45l8.1 8.1m-8.1 0l8.1 -8.1M488.45 440.45l8.1 8.1m-8.1 0l8.1 -8.1M489.45 440.45l8.1 8.1m-8.1 0l8.1 -8.1M490.45 440.45l8.1 8.1m-8.1 0l8.1 -8.1M490.45 440.45l8.1 8.1m-8.1 0l8.1 -8.1M491.45 441.45l8.1 8.1m-8.1 0l8.1 -8.1M492.45 441.45l8.1 8.1m-8.1 0l8.1 -8.1M492.45 441.45l8.1 8.1m-8.1 0l8.1 -8.1M493.45 441.45l8.1 8.1m-8.1 0l8.1 -8.1M493.45 441.45l8.1 8.1m-8.1 0l8.1 -8.1M494.45 442.45l8.1 8.1m-8.1 0l8.1 -8.1M495.45 442.45l8.1 8.1m-8.1 0l8.1 -8.1M495.45 442.45l8.1 8.1m-8.1 0l8.1 -8.1M496.45 442.45l8.1 8.1m-8.1 0l8.1 -8.1M497.45 443.45l8.1 8.1m-8.1 0l8.1 -8.1M497.45 442.45l8.1 8.1m-8.1 0l8.1 -8.1M498.45 442.45l8.1 8.1m-8.1 0l8.1 -8.1M498.45 443.45l8.1 8.1m-8.1 0l8.1 -8.1M499.45 442.45l8.1 8.1m-8.1 0l8.1 -8.1M500.45 442.45l8.1 8.1m-8.1 0l8.1 -8.1M500.45 442.45l8.1 8.1m-8.1 0l8.1 -8.1M501.45 442.45l8.1 8.1m-8.1 0l8.1 -8.1M501.45 441.45l8.1 8.1m-8.1 0l8.1 -8.1M502.45 442.45l8.1 8.1m-8.1 0l8.1 -8.1M503.45 443.45l8.1 8.1m-8.1 0l8.1 -8.1M503.45 442.45l8.1 8.1m-8.1 0l8.1 -8.1M504.45 443.45l8.1 8.1m-8.1 0l8.1 -8.1M505.45 442.45l8.1 8.1m-8.1 0l8.1 -8.1M505.45 443.45l8.1 8.1m-8.1 0l8.1 -8.1M506.45 442.45l8.1 8.1m-8.1 0l8.1 -8.1M506.45 443.45l8.1 8.1m-8.1 0l8.1 -8.1M507.45 442.45l8.1 8.1m-8.1 0l8.1 -8.1M508.45 442.45l8.1 8.1m-8.1 0l8.1 -8.1M508.45 443.45l8.1 8.1m-8.1 0l8.1 -8.1M509.45 443.45l8.1 8.1m-8.1 0l8.1 -8.1M510.45 442.45l8.1 8.1m-8.1 0l8.1 -8.1M510.45 444.45l8.1 8.1m-8.1 0l8.1 -8.1M511.45 443.45l8.1 8.1m-8.1 0l8.1 -8.1M511.45 443.45l8.1 8.1m-8.1 0l8.1 -8.1M512.45 443.45l8.1 8.1m-8.1 0l8.1 -8.1M513.45 443.45l8.1 8.1m-8.1 0l8.1 -8.1M513.45 442.45l8.1 8.1m-8.1 0l8.1 -8.1M514.45 443.45l8.1 8.1m-8.1 0l8.1 -8.1M515.45 443.45l8.1 8.1m-8.1 0l8.1 -8.1M515.45 443.45l8.1 8.1m-8.1 0l8.1 -8.1M516.45 443.45l8.1 8.1m-8.1 0l8.1 -8.1M516.45 444.45l8.1 8.1m-8.1 0l8.1 -8.1M517.45 443.45l8.1 8.1m-8.1 0l8.1 -8.1M518.45 444.45l8.1 8.1m-8.1 0l8.1 -8.1M518.45 444.45l8.1 8.1m-8.1 0l8.1 -8.1M519.45 444.45l8.1 8.1m-8.1 0l8.1 -8.1M519.45 444.45l8.1 8.1m-8.1 0l8.1 -8.1M520.45 444.45l8.1 8.1m-8.1 0l8.1 -8.1M521.45 444.45l8.1 8.1m-8.1 0l8.1 -8.1M521.45 443.45l8.1 8.1m-8.1 0l8.1 -8.1M522.45 444.45l8.1 8.1m-8.1 0l8.1 -8.1M523.45 444.45l8.1 8.1m-8.1 0l8.1 -8.1M523.45 445.45l8.1 8.1m-8.1 0l8.1 -8.1M524.45 444.45l8.1 8.1m-8.1 0l8.1 -8.1M524.45 443.45l8.1 8.1m-8.1 0l8.1 -8.1M525.45 444.45l8.1 8.1m-8.1 0l8.1 -8.1M526.45 445.45l8.1 8.1m-8.1 0l8.1 -8.1M526.45 444.45l8.1 8.1m-8.1 0l8.1 -8.1M527.45 443.45l8.1 8.1m-8.1 0l8.1 -8.1M528.45 444.45l8.1 8.1m-8.1 0l8.1 -8.1M528.45 444.45l8.1 8.1m-8.1 0l8.1 -8.1M529.45 444.45l8.1 8.1m-8.1 0l8.1 -8.1M529.45 444.45l8.1 8.1m-8.1 0l8.1 -8.1M530.45 444.45l8.1 8.1m-8.1 0l8.1 -8.1M531.45 444.45l8.1 8.1m-8.1 0l8.1 -8.1M531.45 431.45l8.1 8.1m-8.1 0l8.1 -8.1M532.45 417.45l8.1 8.1m-8.1 0l8.1 -8.1M532.45 402.45l8.1 8.1m-8.1 0l8.1 -8.1M533.45 391.45l8.1 8.1m-8.1 0l8.1 -8.1M534.45 379.45l8.1 8.1m-8.1 0l8.1 -8.1M534.45 371.45l8.1 8.1m-8.1 0l8.1 -8.1M535.45 363.45l8.1 8.1m-8.1 0l8.1 -8.1M536.45 353.45l8.1 8.1m-8.1 0l8.1 -8.1M536.45 347.45l8.1 8.1m-8.1 0l8.1 -8.1M537.45 341.45l8.1 8.1m-8.1 0l8.1 -8.1M537.45 335.45l8.1 8.1m-8.1 0l8.1 -8.1M538.45 330.45l8.1 8.1m-8.1 0l8.1 -8.1M539.45 323.45l8.1 8.1m-8.1 0l8.1 -8.1M539.45 319.45l8.1 8.1m-8.1 0l8.1 -8.1M540.45 316.45l8.1 8.1m-8.1 0l8.1 -8.1M541.45 316.45l8.1 8.1m-8.1 0l8.1 -8.1M541.45 314.45l8.1 8.1m-8.1 0l8.1 -8.1M542.45 316.45l8.1 8.1m-8.1 0l8.1 -8.1M542.45 313.45l8.1 8.1m-8.1 0l8.1 -8.1M543.45 311.45l8.1 8.1m-8.1 0l8.1 -8.1M544.45 314.45l8.1 8.1m-8.1 0l8.1 -8.1M544.45 309.45l8.1 8.1m-8.1 0l8.1 -8.1M545.45 311.45l8.1 8.1m-8.1 0l8.1 -8.1M546.45 311.45l8.1 8.1m-8.1 0l8.1 -8.1M546.45 313.45l8.1 8.1m-8.1 0l8.1 -8.1M547.45 308.45l8.1 8.1m-8.1 0l8.1 -8.1M547.45 311.45l8.1 8.1m-8.1 0l8.1 -8.1M548.45 310.45l8.1 8.1m-8.1 0l8.1 -8.1M549.45 307.45l8.1 8.1m-8.1 0l8.1 -8.1M549.45 310.45l8.1 8.1m-8.1 0l8.1 -8.1M550.45 309.45l8.1 8.1m-8.1 0l8.1 -8.1M550.45 309.45l8.1 8.1m-8.1 0l8.1 -8.1M551.45 307.45l8.1 8.1m-8.1 0l8.1 -8.1M552.45 306.45l8.1 8.1m-8.1 0l8.1 -8.1M552.45 306.45l8.1 8.1m-8.1 0l8.1 -8.1M553.45 306.45l8.1 8.1m-8.1 0l8.1 -8.1M554.45 307.45l8.1 8.1m-8.1 0l8.1 -8.1M554.45 305.45l8.1 8.1m-8.1 0l8.1 -8.1M555.45 307.45l8.1 8.1m-8.1 0l8.1 -8.1M555.45 302.45l8.1 8.1m-8.1 0l8.1 -8.1M556.45 305.45l8.1 8.1m-8.1 0l8.1 -8.1M557.45 309.45l8.1 8.1m-8.1 0l8.1 -8.1M557.45 307.45l8.1 8.1m-8.1 0l8.1 -8.1M558.45 302.45l8.1 8.1m-8.1 0l8.1 -8.1M559.45 307.45l8.1 8.1m-8.1 0l8.1 -8.1M559.45 306.45l8.1 8.1m-8.1 0l8.1 -8.1M560.45 304.45l8.1 8.1m-8.1 0l8.1 -8.1M560.45 307.45l8.1 8.1m-8.1 0l8.1 -8.1M561.45 303.45l8.1 8.1m-8.1 0l8.1 -8.1M562.45 302.45l8.1 8.1m-8.1 0l8.1 -8.1M562.45 306.45l8.1 8.1m-8.1 0l8.1 -8.1M563.45 303.45l8.1 8.1m-8.1 0l8.1 -8.1M563.45 306.45l8.1 8.1m-8.1 0l8.1 -8.1M564.45 306.45l8.1 8.1m-8.1 0l8.1 -8.1M565.45 304.45l8.1 8.1m-8.1 0l8.1 -8.1M565.45 304.45l8.1 8.1m-8.1 0l8.1 -8.1M566.45 305.45l8.1 8.1m-8.1 0l8.1 -8.1M567.45 302.45l8.1 8.1m-8.1 0l8.1 -8.1M567.45 306.45l8.1 8.1m-8.1 0l8.1 -8.1M568.45 305.45l8.1 8.1m-8.1 0l8.1 -8.1M568.45 305.45l8.1 8.1m-8.1 0l8.1 -8.1M569.45 302.45l8.1 8.1m-8.1 0l8.1 -8.1M570.45 302.45l8.1 8.1m-8.1 0l8.1 -8.1M570.45 302.45l8.1 8.1m-8.1 0l8.1 -8.1M571.45 306.45l8.1 8.1m-8.1 0l8.1 -8.1M572.45 304.45l8.1 8.1m-8.1 0l8.1 -8.1M572.45 304.45l8.1 8.1m-8.1 0l8.1 -8.1M573.45 307.45l8.1 8.1m-8.1 0l8.1 -8.1M573.45 306.45l8.1 8.1m-8.1 0l8.1 -8.1M574.45 304.45l8.1 8.1m-8.1 0l8.1 -8.1M575.45 305.45l8.1 8.1m-8.1 0l8.1 -8.1M575.45 306.45l8.1 8.1m-8.1 0l8.1 -8.1M576.45 306.45l8.1 8.1m-8.1 0l8.1 -8.1M577.45 306.45l8.1 8.1m-8.1 0l8.1 -8.1M577.45 306.45l8.1 8.1m-8.1 0l8.1 -8.1M578.45 307.45l8.1 8.1m-8.1 0l8.1 -8.1M578.45 308.45l8.1 8.1m-8.1 0l8.1 -8.1M579.45 307.45l8.1 8.1m-8.1 0l8.1 -8.1M580.45 307.45l8.1 8.1m-8.1 0l8.1 -8.1M580.45 302.45l8.1 8.1m-8.1 0l8.1 -8.1M581.45 306.45l8.1 8.1m-8.1 0l8.1 -8.1M581.45 306.45l8.1 8.1m-8.1 0l8.1 -8.1M582.45 307.45l8.1 8.1m-8.1 0l8.1 -8.1M583.45 306.45l8.1 8.1m-8.1 0l8.1 -8.1M583.45 307.45l8.1 8.1m-8.1 0l8.1 -8.1M584.45 305.45l8.1 8.1m-8.1 0l8.1 -8.1M585.45 306.45l8.1 8.1m-8.1 0l8.1 -8.1M585.45 305.45l8.1 8.1m-8.1 0l8.1 -8.1M586.45 307.45l8.1 8.1m-8.1 0l8.1 -8.1M586.45 305.45l8.1 8.1m-8.1 0l8.1 -8.1M587.45 304.45l8.1 8.1m-8.1 0l8.1 -8.1M588.45 307.45l8.1 8.1m-8.1 0l8.1 -8.1M588.45 304.45l8.1 8.1m-8.1 0l8.1 -8.1M589.45 304.45l8.1 8.1m-8.1 0l8.1 -8.1M590.45 305.45l8.1 8.1m-8.1 0l8.1 -8.1M590.45 305.45l8.1 8.1m-8.1 0l8.1 -8.1M591.45 307.45l8.1 8.1m-8.1 0l8.1 -8.1M591.45 302.45l8.1 8.1m-8.1 0l8.1 -8.1M592.45 305.45l8.1 8.1m-8.1 0l8.1 -8.1M593.45 304.45l8.1 8.1m-8.1 0l8.1 -8.1M593.45 291.45l8.1 8.1m-8.1 0l8.1 -8.1M594.45 285.45l8.1 8.1m-8.1 0l8.1 -8.1M594.45 277.45l8.1 8.1m-8.1 0l8.1 -8.1M595.45 270.45l8.1 8.1m-8.1 0l8.1 -8.1M596.45 264.45l8.1 8.1m-8.1 0l8.1 -8.1M596.45 257.45l8.1 8.1m-8.1 0l8.1 -8.1M597.45 253.45l8.1 8.1m-8.1 0l8.1 -8.1M598.45 250.45l8.1 8.1m-8.1 0l8.1 -8.1M598.45 245.45l8.1 8.1m-8.1 0l8.1 -8.1M599.45 246.45l8.1 8.1m-8.1 0l8.1 -8.1M599.45 245.45l8.1 8.1m-8.1 0l8.1 -8.1M600.45 241.45l8.1 8.1m-8.1 0l8.1 -8.1M601.45 242.45l8.1 8.1m-8.1 0l8.1 -8.1M601.45 241.45l8.1 8.1m-8.1 0l8.1 -8.1M602.45 240.45l8.1 8.1m-8.1 0l8.1 -8.1M603.45 238.45l8.1 8.1m-8.1 0l8.1 -8.1M603.45 239.45l8.1 8.1m-8.1 0l8.1 -8.1M604.45 237.45l8.1 8.1m-8.1 0l8.1 -8.1M604.45 233.45l8.1 8.1m-8.1 0l8.1 -8.1M605.45 234.45l8.1 8.1m-8.1 0l8.1 -8.1M606.45 239.45l8.1 8.1m-8.1 0l8.1 -8.1M606.45 237.45l8.1 8.1m-8.1 0l8.1 -8.1M607.45 232.45l8.1 8.1m-8.1 0l8.1 -8.1M608.45 233.45l8.1 8.1m-8.1 0l8.1 -8.1M608.45 232.45l8.1 8.1m-8.1 0l8.1 -8.1M609.45 230.45l8.1 8.1m-8.1 0l8.1 -8.1M609.45 234.45l8.1 8.1m-8.1 0l8.1 -8.1M610.45 228.45l8.1 8.1m-8.1 0l8.1 -8.1M611.45 230.45l8.1 8.1m-8.1 0l8.1 -8.1M611.45 229.45l8.1 8.1m-8.1 0l8.1 -8.1M612.45 229.45l8.1 8.1m-8.1 0l8.1 -8.1M612.45 228.45l8.1 8.1m-8.1 0l8.1 -8.1M613.45 229.45l8.1 8.1m-8.1 0l8.1 -8.1M614.45 230.45l8.1 8.1m-8.1 0l8.1 -8.1M614.45 227.45l8.1 8.1m-8.1 0l8.1 -8.1M615.45 228.45l8.1 8.1m-8.1 0l8.1 -8.1M616.45 231.45l8.1 8.1m-8.1 0l8.1 -8.1M616.45 226.45l8.1 8.1m-8.1 0l8.1 -8.1M617.45 226.45l8.1 8.1m-8.1 0l8.1 -8.1M617.45 226.45l8.1 8.1m-8.1 0l8.1 -8.1M618.45 228.45l8.1 8.1m-8.1 0l8.1 -8.1M619.45 228.45l8.1 8.1m-8.1 0l8.1 -8.1M619.45 230.45l8.1 8.1m-8.1 0l8.1 -8.1M620.45 231.45l8.1 8.1m-8.1 0l8.1 -8.1M621.45 230.45l8.1 8.1m-8.1 0l8.1 -8.1M621.45 230.45l8.1 8.1m-8.1 0l8.1 -8.1M622.45 232.45l8.1 8.1m-8.1 0l8.1 -8.1M622.45 228.45l8.1 8.1m-8.1 0l8.1 -8.1M623.45 235.45l8.1 8.1m-8.1 0l8.1 -8.1M624.45 234.45l8.1 8.1m-8.1 0l8.1 -8.1M624.45 233.45l8.1 8.1m-8.1 0l8.1 -8.1M625.45 230.45l8.1 8.1m-8.1 0l8.1 -8.1M625.45 233.45l8.1 8.1m-8.1 0l8.1 -8.1M626.45 234.45l8.1 8.1m-8.1 0l8.1 -8.1M627.45 235.45l8.1 8.1m-8.1 0l8.1 -8.1M627.45 235.45l8.1 8.1m-8.1 0l8.1 -8.1M628.45 236.45l8.1 8.1m-8.1 0l8.1 -8.1M629.45 232.45l8.1 8.1m-8.1 0l8.1 -8.1M629.45 233.45l8.1 8.1m-8.1 0l8.1 -8.1M630.45 232.45l8.1 8.1m-8.1 0l8.1 -8.1M630.45 235.45l8.1 8.1m-8.1 0l8.1 -8.1M631.45 230.45l8.1 8.1m-8.1 0l8.1 -8.1M632.45 236.45l8.1 8.1m-8.1 0l8.1 -8.1M632.45 238.45l8.1 8.1m-8.1 0l8.1 -8.1M633.45 235.45l8.1 8.1m-8.1 0l8.1 -8.1M634.45 234.45l8.1 8.1m-8.1 0l8.1 -8.1M634.45 233.45l8.1 8.1m-8.1 0l8.1 -8.1M635.45 236.45l8.1 8.1m-8.1 0l8.1 -8.1M635.45 233.45l8.1 8.1m-8.1 0l8.1 -8.1M636.45 231.45l8.1 8.1m-8.1 0l8.1 -8.1M637.45 236.45l8.1 8.1m-8.1 0l8.1 -8.1M637.45 235.45l8.1 8.1m-8.1 0l8.1 -8.1M638.45 237.45l8.1 8.1m-8.1 0l8.1 -8.1M639.45 233.45l8.1 8.1m-8.1 0l8.1 -8.1M639.45 232.45l8.1 8.1m-8.1 0l8.1 -8.1M640.45 232.45l8.1 8.1m-8.1 0l8.1 -8.1M640.45 232.45l8.1 8.1m-8.1 0l8.1 -8.1M641.45 231.45l8.1 8.1m-8.1 0l8.1 -8.1M642.45 233.45l8.1 8.1m-8.1 0l8.1 -8.1M642.45 231.45l8.1 8.1m-8.1 0l8.1 -8.1M643.45 234.45l8.1 8.1m-8.1 0l8.1 -8.1M643.45 234.45l8.1 8.1m-8.1 0l8.1 -8.1M644.45 232.45l8.1 8.1m-8.1 0l8.1 -8.1M645.45 233.45l8.1 8.1m-8.1 0l8.1 -8.1M645.45 231.45l8.1 8.1m-8.1 0l8.1 -8.1M646.45 229.45l8.1 8.1m-8.1 0l8.1 -8.1M647.45 231.45l8.1 8.1m-8.1 0l8.1 -8.1M647.45 232.45l8.1 8.1m-8.1 0l8.1 -8.1M648.45 232.45l8.1 8.1m-8.1 0l8.1 -8.1M648.45 228.45l8.1 8.1m-8.1 0l8.1 -8.1M649.45 232.45l8.1 8.1m-8.1 0l8.1 -8.1M650.45 230.45l8.1 8.1m-8.1 0l8.1 -8.1M650.45 230.45l8.1 8.1m-8.1 0l8.1 -8.1M651.45 230.45l8.1 8.1m-8.1 0l8.1 -8.1M652.45 228.45l8.1 8.1m-8.1 0l8.1 -8.1M652.45 230.45l8.1 8.1m-8.1 0l8.1 -8.1M653.45 232.45l8.1 8.1m-8.1 0l8.1 -8.1M653.45 226.45l8.1 8.1m-8.1 0l8.1 -8.1M654.45 229.45l8.1 8.1m-8.1 0l8.1 -8.1M655.45 229.45l8.1 8.1m-8.1 0l8.1 -8.1M655.45 269.45l8.1 8.1m-8.1 0l8.1 -8.1M656.45 298.45l8.1 8.1m-8.1 0l8.1 -8.1M656.45 324.45l8.1 8.1m-8.1 0l8.1 -8.1M657.45 346.45l8.1 8.1m-8.1 0l8.1 -8.1M658.45 365.45l8.1 8.1m-8.1 0l8.1 -8.1M658.45 383.45l8.1 8.1m-8.1 0l8.1 -8.1M659.45 398.45l8.1 8.1m-8.1 0l8.1 -8.1M660.45 411.45l8.1 8.1m-8.1 0l8.1 -8.1M660.45 422.45l8.1 8.1m-8.1 0l8.1 -8.1M661.45 430.45l8.1 8.1m-8.1 0l8.1 -8.1M661.45 439.45l8.1 8.1m-8.1 0l8.1 -8.1M662.45 446.45l8.1 8.1m-8.1 0l8.1 -8.1M663.45 452.45l8.1 8.1m-8.1 0l8.1 -8.1M663.45 457.45l8.1 8.1m-8.1 0l8.1 -8.1M664.45 462.45l8.1 8.1m-8.1 0l8.1 -8.1M665.45 465.45l8.1 8.1m-8.1 0l8.1 -8.1M665.45 469.45l8.1 8.1m-8.1 0l8.1 -8.1M666.45 472.45l8.1 8.1m-8.1 0l8.1 -8.1M666.45 474.45l8.1 8.1m-8.1 0l8.1 -8.1M667.45 476.45l8.1 8.1m-8.1 0l8.1 -8.1M668.45 478.45l8.1 8.1m-8.1 0l8.1 -8.1M668.45 480.45l8.1 8.1m-8.1 0l8.1 -8.1M669.45 481.45l8.1 8.1m-8.1 0l8.1 -8.1M670.45 482.45l8.1 8.1m-8.1 0l8.1 -8.1M670.45 484.45l8.1 8.1m-8.1 0l8.1 -8.1M671.45 484.45l8.1 8.1m-8.1 0l8.1 -8.1M671.45 485.45l8.1 8.1m-8.1 0l8.1 -8.1M672.45 486.45l8.1 8.1m-8.1 0l8.1 -8.1M673.45 486.45l8.1 8.1m-8.1 0l8.1 -8.1M673.45 486.45l8.1 8.1m-8.1 0l8.1 -8.1M674.45 487.45l8.1 8.1m-8.1 0l8.1 -8.1M674.45 488.45l8.1 8.1m-8.1 0l8.1 -8.1M675.45 488.45l8.1 8.1m-8.1 0l8.1 -8.1M676.45 488.45l8.1 8.1m-8.1 0l8.1 -8.1M676.45 489.45l8.1 8.1m-8.1 0l8.1 -8.1M677.45 489.45l8.1 8.1m-8.1 0l8.1 -8.1M678.45 489.45l8.1 8.1m-8.1 0l8.1 -8.1M678.45 489.45l8.1 8.1m-8.1 0l8.1 -8.1M679.45 489.45l8.1 8.1m-8.1 0l8.1 -8.1M679.45 489.45l8.1 8.1m-8.1 0l8.1 -8.1M680.45 489.45l8.1 8.1m-8.1 0l8.1 -8.1M681.45 490.45l8.1 8.1m-8.1 0l8.1 -8.1M681.45 490.45l8.1 8.1m-8.1 0l8.1 -8.1M682.45 490.45l8.1 8.1m-8.1 0l8.1 -8.1M683.45 490.45l8.1 8.1m-8.1 0l8.1 -8.1M683.45 490.45l8.1 8.1m-8.1 0l8.1 -8.1M684.45 490.45l8.1 8.1m-8.1 0l8.1 -8.1M684.45 490.45l8.1 8.1m-8.1 0l8.1 -8.1M685.45 490.45l8.1 8.1m-8.1 0l8.1 -8.1M686.45 490.45l8.1 8.1m-8.1 0l8.1 -8.1M686.45 490.45l8.1 8.1m-8.1 0l8.1 -8.1M687.45 490.45l8.1 8.1m-8.1 0l8.1 -8.1M687.45 490.45l8.1 8.1m-8.1 0l8.1 -8.1M688.45 490.45l8.1 8.1m-8.1 0l8.1 -8.1M689.45 490.45l8.1 8.1m-8.1 0l8.1 -8.1M689.45 490.45l8.1 8.1m-8.1 0l8.1 -8.1M690.45 490.45l8.1 8.1m-8.1 0l8.1 -8.1M691.45 490.45l8.1 8.1m-8.1 0l8.1 -8.1M691.45 490.45l8.1 8.1m-8.1 0l8.1 -8.1M692.45 491.45l8.1 8.1m-8.1 0l8.1 -8.1M692.45 490.45l8.1 8.1m-8.1 0l8.1 -8.1M693.45 490.45l8.1 8.1m-8.1 0l8.1 -8.1M694.45 491.45l8.1 8.1m-8.1 0l8.1 -8.1M694.45 490.45l8.1 8.1m-8.1 0l8.1 -8.1M695.45 491.45l8.1 8.1m-8.1 0l8.1 -8.1M696.45 491.45l8.1 8.1m-8.1 0l8.1 -8.1M696.45 491.45l8.1 8.1m-8.1 0l8.1 -8.1M697.45 491.45l8.1 8.1m-8.1 0l8.1 -8.1M697.45 490.45l8.1 8.1m-8.1 0l8.1 -8.1M698.45 491.45l8.1 8.1m-8.1 0l8.1 -8.1M699.45 491.45l8.1 8.1m-8.1 0l8.1 -8.1M699.45 491.45l8.1 8.1m-8.1 0l8.1 -8.1M700.45 490.45l8.1 8.1m-8.1 0l8.1 -8.1M701.45 491.45l8.1 8.1m-8.1 0l8.1 -8.1M701.45 491.45l8.1 8.1m-8.1 0l8.1 -8.1M702.45 491.45l8.1 8.1m-8.1 0l8.1 -8.1M702.45 490.45l8.1 8.1m-8.1 0l8.1 -8.1M703.45 491.45l8.1 8.1m-8.1 0l8.1 -8.1M704.45 491.45l8.1 8.1m-8.1 0l8.1 -8.1M704.45 491.45l8.1 8.1m-8.1 0l8.1 -8.1M705.45 491.45l8.1 8.1m-8.1 0l8.1 -8.1M705.45 491.45l8.1 8.1m-8.1 0l8.1 -8.1M706.45 491.45l8.1 8.1m-8.1 0l8.1 -8.1M707.45 490.45l8.1 8.1m-8.1 0l8.1 -8.1M707.45 491.45l8.1 8.1m-8.1 0l8.1 -8.1M708.45 491.45l8.1 8.1m-8.1 0l8.1 -8.1M709.45 491.45l8.1 8.1m-8.1 0l8.1 -8.1M709.45 491.45l8.1 8.1m-8.1 0l8.1 -8.1M710.45 491.45l8.1 8.1m-8.1 0l8.1 -8.1M710.45 491.45l8.1 8.1m-8.1 0l8.1 -8.1M711.45 491.45l8.1 8.1m-8.1 0l8.1 -8.1M712.45 491.45l8.1 8.1m-8.1 0l8.1 -8.1M712.45 491.45l8.1 8.1m-8.1 0l8.1 -8.1M713.45 491.45l8.1 8.1m-8.1 0l8.1 -8.1M714.45 491.45l8.1 8.1m-8.1 0l8.1 -8.1M714.45 491.45l8.1 8.1m-8.1 0l8.1 -8.1M715.45 491.45l8.1 8.1m-8.1 0l8.1 -8.1M715.45 491.45l8.1 8.1m-8.1 0l8.1 -8.1M716.45 491.45l8.1 8.1m-8.1 0l8.1 -8.1" fill="none" stroke="#ff0000" stroke-width="0.98"/>
<path d="M100.5 540.5v-5.8M100.5 60.5v5.8M224.5 540.5v-5.8M224.5 60.5v5.8M348.5 540.5v-5.8M348.5 60.5v5.8M472.5 540.5v-5.8M472.5 60.5v5.8M596.5 540.5v-5.8M596.5 60.5v5.8M720.5 540.5v-5.8M720.5 60.5v5.8M100.5 540.5h5.8M720.5 540.5h-5.8M100.5 487.5h5.8M720.5 487.5h-5.8M100.5 433.5h5.8M720.5 433.5h-5.8M100.5 380.5h5.8M720.5 380.5h-5.8M100.5 327.5h5.8M720.5 327.5h-5.8M100.5 273.5h5.8M720.5 273.5h-5.8M100.5 220.5h5.8M720.5 220.5h-5.8M100.5 167.5h5.8M720.5 167.5h-5.8M100.5 113.5h5.8M720.5 113.5h-5.8M100.5 60.5h5.8M720.5 60.5h-5.8" stroke="#000" stroke-width="0.69" fill="none"/>
<rect x="100.5" y="60.5" width="620" height="480" fill="none" stroke="#000" stroke-width="1.39"/>
<text transform="translate(99.6,560.2) scale(1,1.083)" font-size="16.67" text-anchor="middle" font-family="DejaVu Sans, Liberation Sans, sans-serif">0</text>
<text transform="translate(223.6,560.2) scale(1,1.083)" font-size="16.67" text-anchor="middle" font-family="DejaVu Sans, Liberation Sans, sans-serif">20000</text>
<text transform="translate(347.6,560.2) scale(1,1.083)" font-size="16.67" text-anchor="middle" font-family="DejaVu Sans, Liberation Sans, sans-serif">40000</text>
<text transform="translate(471.6,560.2) scale(1,1.083)" font-size="16.67" text-anchor="middle" font-family="DejaVu Sans, Liberation Sans, sans-serif">60000</text>
<text transform="translate(595.6,560.2) scale(1,1.083)" font-size="16.67" text-anchor="middle" font-family="DejaVu Sans, Liberation Sans, sans-serif">80000</text>
<text transform="translate(719.6,560.2) scale(1,1.083)" font-size="16.67" text-anchor="middle" font-family="DejaVu Sans, Liberation Sans, sans-serif">100000</text>
<text transform="translate(95.0,544.9) scale(1,1.083)" font-size="16.67" text-anchor="end" font-family="DejaVu Sans, Liberation Sans, sans-serif">0</text>
<text transform="translate(95.0,491.6) scale(1,1.083)" font-size="16.67" text-anchor="end" font-family="DejaVu Sans, Liberation Sans, sans-serif">10</text>
<text transform="translate(95.0,438.2) scale(1,1.083)" font-size="16.67" text-anchor="end" font-family="DejaVu Sans, Liberation Sans, sans-serif">20</text>
<text transform="translate(95.0,384.9) scale(1,1.083)" font-size="16.67" text-anchor="end" font-family="DejaVu Sans, Liberation Sans, sans-serif">30</text>
<text transform="translate(95.0,331.6) scale(1,1.083)" font-size="16.67" text-anchor="end" font-family="DejaVu Sans, Liberation Sans, sans-serif">40</text>
<text transform="translate(95.0,278.2) scale(1,1.083)" font-size="16.67" text-anchor="end" font-family="DejaVu Sans, Liberation Sans, sans-serif">50</text>
<text transform="translate(95.0,224.9) scale(1,1.083)" font-size="16.67" text-anchor="end" font-family="DejaVu Sans, Liberation Sans, sans-serif">60</text>
<text transform="translate(95.0,171.6) scale(1,1.083)" font-size="16.67" text-anchor="end" font-family="DejaVu Sans, Liberation Sans, sans-serif">70</text>
<text transform="translate(95.0,118.2) scale(1,1.083)" font-size="16.67" text-anchor="end" font-family="DejaVu Sans, Liberation Sans, sans-serif">80</text>
<text transform="translate(95.0,64.9) scale(1,1.083)" font-size="16.67" text-anchor="end" font-family="DejaVu Sans, Liberation Sans, sans-serif">90</text>
<text x="410.5" y="52.8" font-size="20" text-anchor="middle" font-family="DejaVu Sans, Liberation Sans, sans-serif">sigma over time, zw=0.3</text>
<text transform="translate(410,583.4) scale(1,1.083)" font-size="16.67" text-anchor="middle" font-family="DejaVu Sans, Liberation Sans, sans-serif">t</text>
<text transform="translate(63.3,300) rotate(-90) scale(0.955,1.083)" font-size="16.67" text-anchor="middle" font-family="DejaVu Sans, Liberation Sans, sans-serif">sigma</text>
</svg>
</body></html>
